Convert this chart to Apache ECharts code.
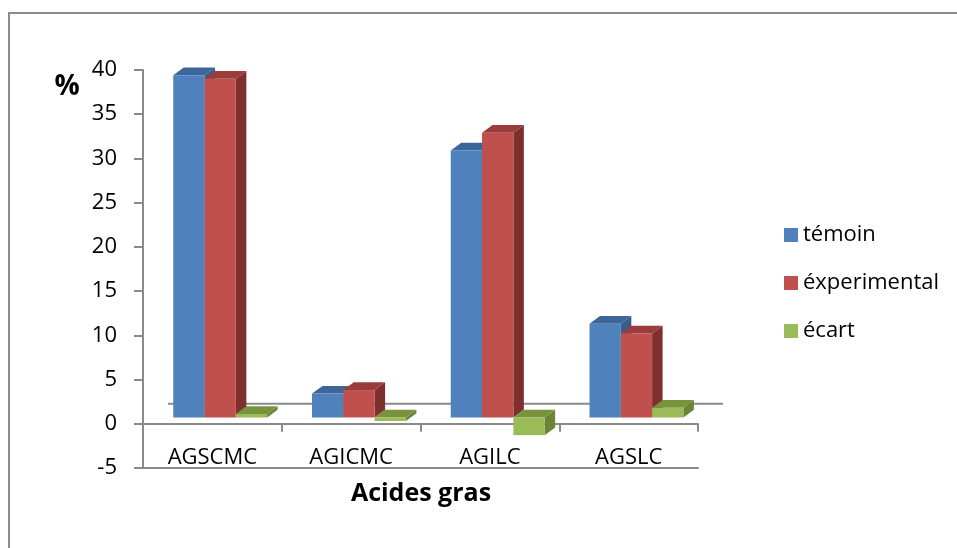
<!DOCTYPE html>
<html>
<head>
<meta charset="utf-8">
<script src="https://cdn.jsdelivr.net/npm/echarts@6/dist/echarts.min.js"></script>
<style>
html,body{margin:0;padding:0;background:#fff;}
#c{width:957px;height:548px;}
</style>
</head>
<body>
<div id="c"></div>
<script>
const categories = ['AGSCMC', 'AGICMC', 'AGILC', 'AGSLC'];
const temoin = [38.7, 2.7, 30.2, 10.6];
const experimental = [38.3, 3.1, 32.2, 9.5];
const ecart = [0.4, -0.4, -2.0, 1.1];
const seriesNames = ['témoin', 'éxperimental', 'écart'];
const yTicks = { min: -5, max: 40, interval: 5 };

const FONT = 'Open Sans';
const faceColors = [
  { front: '#4F81BD', top: '#3C6699', side: '#385D8A' },
  { front: '#C0504D', top: '#9B3C3A', side: '#7F2F2D' },
  { front: '#9BBB59', top: '#77933C', side: '#6A8535' }
];
const BAR_OFF = 0.218;
const BAR_W = 0.2256;
const DX = 10.5, DY = -7.7;
const OY = -6.3;
const FLOOR_DX = 25, FLOOR_DY = -20;

function makeRender(sIdx) {
  return function (params, api) {
    const ci = api.value(0);
    const v = api.value(1);
    const c0 = api.coord([ci, 0]);
    const c1 = api.coord([ci, v]);
    const bw = api.size([1, 0])[0];
    const w = bw * BAR_W;
    const left = c0[0] - bw / 2 + bw * BAR_OFF + sIdx * w;
    const y0 = c0[1] + OY, y1 = c1[1] + OY;
    const top = Math.min(y0, y1), bot = Math.max(y0, y1);
    const col = faceColors[sIdx];
    return {
      type: 'group',
      children: [
        { type: 'polygon', shape: { points: [[left + w, top], [left + w + DX, top + DY], [left + w + DX, bot + DY], [left + w, bot]] }, style: { fill: col.side } },
        { type: 'polygon', shape: { points: [[left, top], [left + w, top], [left + w + DX, top + DY], [left + DX, top + DY]] }, style: { fill: col.top } },
        { type: 'rect', shape: { x: left, y: top, width: w, height: bot - top }, style: { fill: col.front } }
      ]
    };
  };
}

function floorRender(params, api) {
  const c = api.coord([0, 0]);
  const bw = api.size([1, 0])[0];
  const x0 = c[0] - bw / 2;
  const x1 = x0 + bw * categories.length;
  return {
    type: 'line',
    shape: { x1: x0 + FLOOR_DX, y1: c[1] + FLOOR_DY, x2: x1 + FLOOR_DX, y2: c[1] + FLOOR_DY },
    style: { stroke: '#8A8A8A', lineWidth: 2 }
  };
}

const allData = [temoin, experimental, ecart];
const series = [{
  type: 'custom',
  name: '__floor',
  renderItem: floorRender,
  data: [[0, 0]],
  z: 1,
  silent: true
}];
allData.forEach((arr, i) => {
  series.push({
    type: 'custom',
    name: seriesNames[i],
    renderItem: makeRender(i),
    encode: { x: 0, y: 1 },
    data: arr.map((v, k) => [k, v]),
    itemStyle: { color: faceColors[i].front },
    z: 2
  });
});

const axisGray = '#8A8A8A';
const chart = echarts.init(document.getElementById('c'), null, { renderer: 'canvas' });
chart.setOption({
  animation: false,
  backgroundColor: '#fff',
  textStyle: { fontFamily: FONT },
  grid: { left: 143, right: 259, top: 70, bottom: 80, containLabel: false },
  legend: {
    orient: 'vertical',
    left: 779,
    top: 217,
    data: seriesNames,
    icon: 'rect',
    itemWidth: 14,
    itemHeight: 14,
    itemGap: 22,
    textStyle: { fontFamily: FONT, fontSize: 22, color: '#000', lineHeight: 26 }
  },
  xAxis: [{
    type: 'category',
    data: categories,
    axisLine: { show: true, onZero: true, lineStyle: { color: axisGray, width: 2 } },
    axisTick: { show: true, length: 8, lineStyle: { color: axisGray, width: 2 } },
    axisLabel: { show: false },
    splitLine: { show: false }
  }, {
    type: 'category',
    data: categories,
    position: 'bottom',
    axisLine: { show: true, onZero: false, lineStyle: { color: axisGray, width: 2 } },
    axisTick: { show: false },
    axisLabel: { show: true, inside: true, margin: -1, color: '#000', fontFamily: FONT, fontSize: 22 },
    splitLine: { show: false }
  }],
  yAxis: {
    type: 'value',
    min: yTicks.min,
    max: yTicks.max,
    interval: yTicks.interval,
    axisLine: { show: true, lineStyle: { color: axisGray, width: 2 } },
    axisTick: { show: true, length: 9, lineStyle: { color: axisGray, width: 2 } },
    axisLabel: { color: '#000', fontFamily: FONT, fontSize: 22, margin: 26 },
    splitLine: { show: false }
  },
  graphic: [
    { type: 'rect', shape: { x: 9, y: 13, width: 990, height: 600 }, style: { fill: 'none', stroke: '#8C8C8C', lineWidth: 2 }, silent: true },
    { type: 'text', x: 67, y: 87, style: { text: '%', font: 'bold 28px "Open Sans"', fill: '#000', align: 'center', verticalAlign: 'middle' } },
    { type: 'text', x: 421, y: 494, style: { text: 'Acides gras', font: 'bold 25px "Open Sans"', fill: '#000', align: 'center', verticalAlign: 'middle' } }
  ],
  series: series
});
</script>
</body>
</html>
